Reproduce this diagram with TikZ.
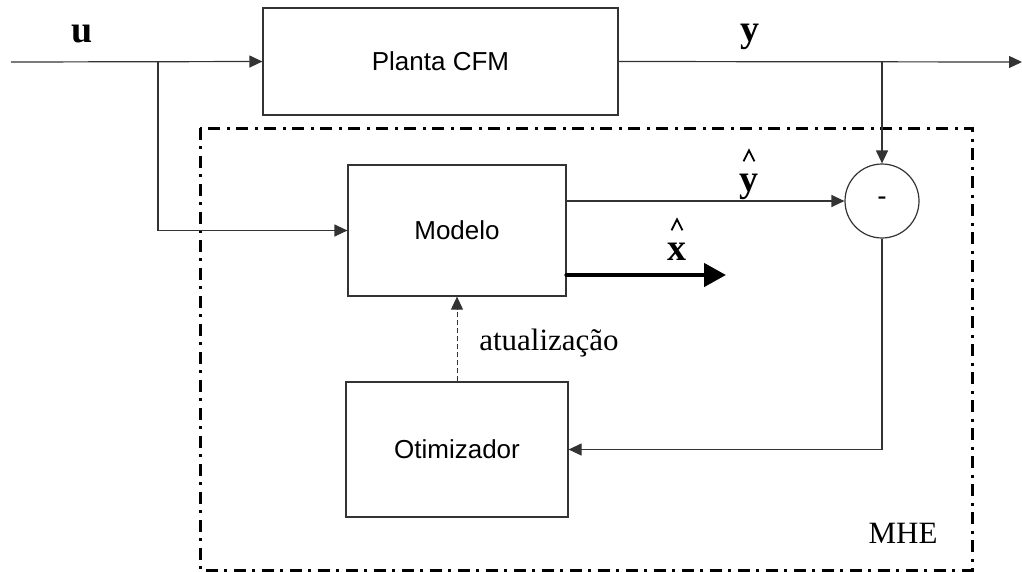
\documentclass[tikz,border=0pt]{standalone}
\usepackage{fontspec}
\setmainfont{Liberation Serif}
\setsansfont{Liberation Sans}
\usetikzlibrary{arrows.meta}
\begin{document}
\begin{tikzpicture}[x=1pt,y=-1pt,
  line/.style={draw=black!80, line width=1.2pt},
  arr/.style={line, -{Triangle[length=13pt,width=12pt]}},
  block/.style={draw=black!80, line width=1.2pt, rectangle, inner sep=0pt, font=\sffamily\fontsize{26}{30}\selectfont},
  sig/.style={font=\bfseries\fontsize{38}{40}\selectfont, inner sep=0pt, anchor=base},
  txt/.style={font=\fontsize{31}{36}\selectfont, inner sep=0pt, anchor=base},
  hatline/.style={draw=black, line width=1.8pt, line join=miter},
  mhebox/.style={draw=black, line width=3pt, dash pattern=on 12pt off 6pt on 3pt off 7pt}
]
\useasboundingbox (0,0) rectangle (1022,571);
\fill[white] (0,0) rectangle (1022,571);

\draw[mhebox] (200,128) rectangle (972,570);

\node[block, minimum width=355pt, minimum height=107pt] (plant) at (440.5,61.5) {Planta CFM};
\node[block, minimum width=218pt, minimum height=131pt] (model) at (457,230.5) {Modelo};
\node[block, minimum width=222pt, minimum height=135pt] (opt) at (457,449.5) {Otimizador};
\node[draw=black!80, line width=1.2pt, circle, minimum size=74pt, inner sep=0pt, font=\sffamily\fontsize{28}{30}\selectfont] (sum) at (882,201) {-};

\coordinate (in) at (11,62);
\coordinate (out) at (1022,62);
\coordinate (bu) at (158,62);
\coordinate (by) at (882,62);
\coordinate (xend) at (726,275);

\draw[arr] (in) -- (plant.west);
\draw[arr] (bu) |- (model.west);
\draw[arr] (plant.east) -- (out);
\draw[arr] (by) -- (sum.north);
\draw[arr] (model.east |- sum.west) -- (sum.west);
\draw[arr] (sum.south) |- (opt.east);
\draw[draw=black!80, line width=0.9pt, dash pattern=on 5pt off 3pt, -{Triangle[length=13pt,width=12pt]}] (opt.north) -- (model.south);
\draw[line width=4.5pt, line cap=round, -{Triangle[length=22pt,width=23pt]}] (model.east |- xend) -- (xend);

\node[sig] (ulab) at (82,42) {u};
\node[sig] (ylab) at (750,41) {y};
\node[sig] (yhat) at (749,191) {y};
\node[sig] (xhat) at (677,260) {x};
\draw[hatline] ([xshift=-5.5pt,yshift=12pt]yhat.north) -- ([yshift=23pt]yhat.north) -- ([xshift=5.5pt,yshift=12pt]yhat.north);
\draw[hatline] ([xshift=-5.5pt,yshift=12pt]xhat.north) -- ([yshift=23pt]xhat.north) -- ([xshift=5.5pt,yshift=12pt]xhat.north);
\node[txt] (upd) at (549,350) {atualização};
\node[txt] (mhe) at (903,543) {MHE};
\end{tikzpicture}
\end{document}
